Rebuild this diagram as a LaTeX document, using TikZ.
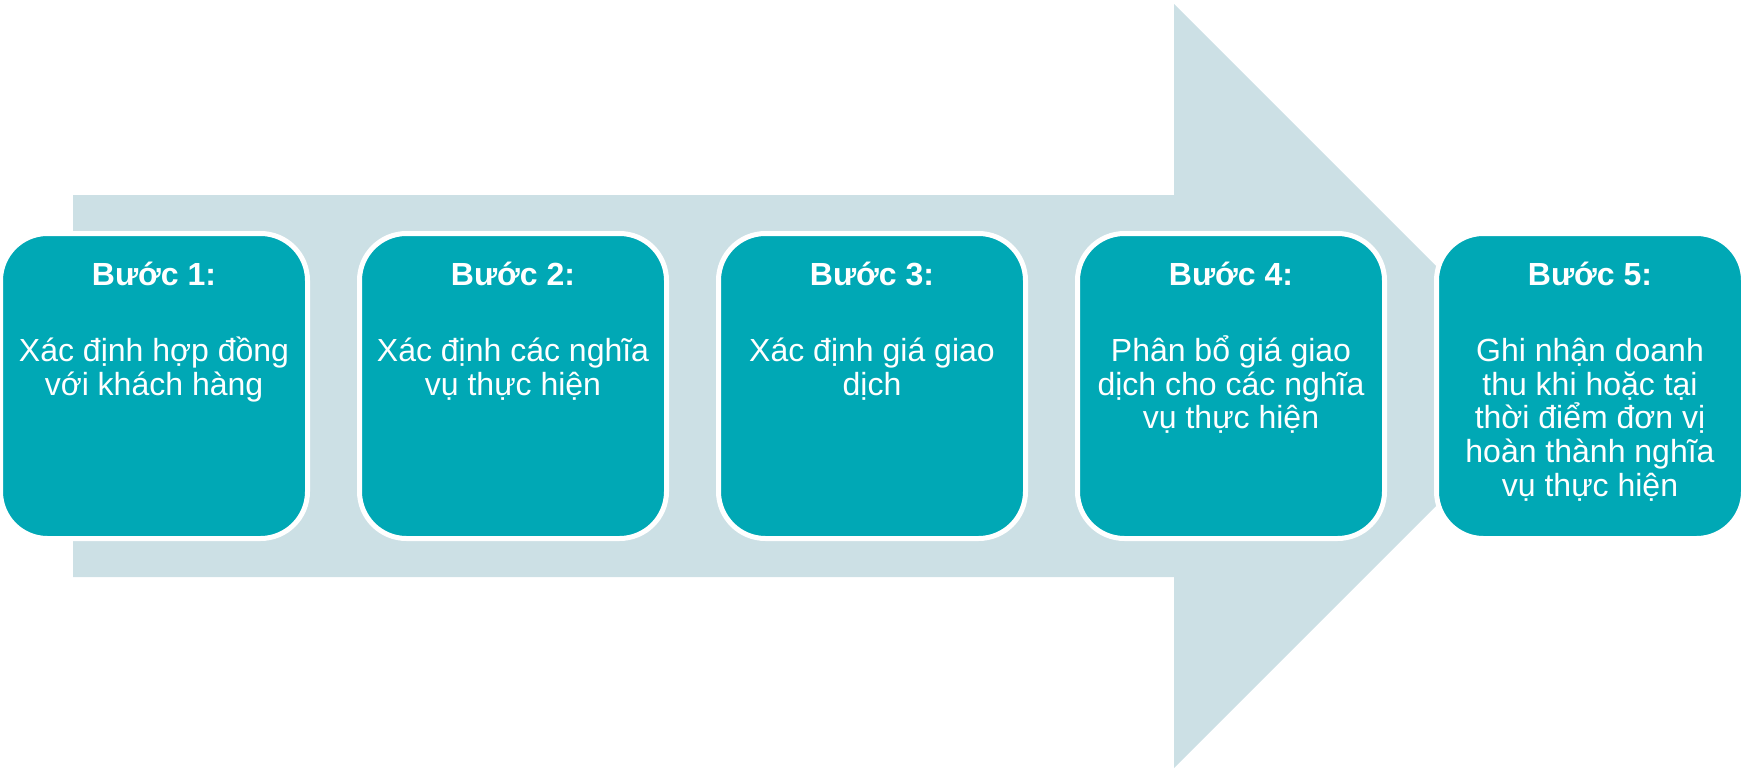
\documentclass[tikz,border=0pt]{standalone}
\usepackage{fontspec}
\setmainfont{Liberation Sans}
\usepackage{xcolor}
\usepackage{tikz}
\definecolor{stepteal}{RGB}{0,168,181}
\definecolor{arrowgray}{RGB}{204,224,229}
\newcommand{\steptext}[2]{\parbox[c][150pt][t]{150pt}{\centering\rule{0pt}{24.5pt}\textbf{#1}\\[21.5pt]#2\par}}

\begin{document}
\begin{tikzpicture}[x=0.5pt, y=-0.5pt, node distance=179.5pt]
    \tikzstyle{stepbox} = [rectangle, rounded corners=23.5pt, minimum width=153.5pt, minimum height=152.5pt, inner sep=0pt, draw=white, line width=2.5pt, fill=stepteal, text=white, font=\fontsize{16pt}{16.8pt}\selectfont]
    \useasboundingbox (0,0) rectangle (1741,771);

    % Background arrow
    \fill [arrowgray] (73,195) -- (1174,195) -- (1174,4) -- (1556,386) -- (1174,768) -- (1174,577) -- (73,577) -- cycle;

    \node [stepbox] (step1) at (154,386) {\steptext{Bước 1:}{Xác định hợp đồng\\với khách hàng}};
    \node [stepbox, right of=step1] (step2) {\steptext{Bước 2:}{Xác định các nghĩa\\vụ thực hiện}};
    \node [stepbox, right of=step2] (step3) {\steptext{Bước 3:}{Xác định giá giao\\dịch}};
    \node [stepbox, right of=step3] (step4) {\steptext{Bước 4:}{Phân bổ giá giao\\dịch cho các nghĩa\\vụ thực hiện}};
    \node [stepbox, right of=step4] (step5) {\steptext{Bước 5:}{Ghi nhận doanh\\thu khi hoặc tại\\thời điểm đơn vị\\hoàn thành nghĩa\\vụ thực hiện}};
\end{tikzpicture}
\end{document}
